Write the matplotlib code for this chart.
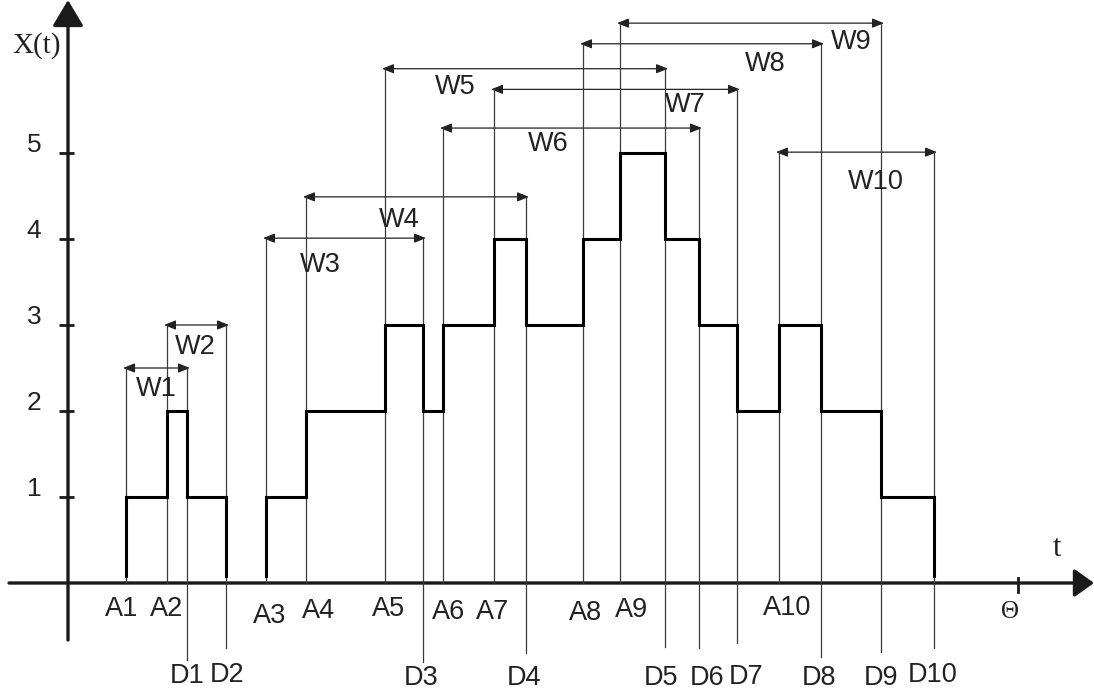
"""
Step diagram of X(t): arrivals A1..A10, departures D1..D10, windows W1..W10.
"""

import matplotlib
matplotlib.use("Agg")
import matplotlib.pyplot as plt
from matplotlib.patches import FancyArrowPatch

# ---- data (time in drawing units, level in X(t) units) ----
A_TIMES = [126, 167, 266, 306, 385, 443, 494, 583, 620, 779]
D_TIMES = [187, 226, 423, 526, 665, 699, 737, 821, 881, 934]
A_NAMES = ["A1", "A2", "A3", "A4", "A5", "A6", "A7", "A8", "A9", "A10"]
D_NAMES = ["D1", "D2", "D3", "D4", "D5", "D6", "D7", "D8", "D9", "D10"]
W_NAMES = ["W1", "W2", "W3", "W4", "W5", "W6", "W7", "W8", "W9", "W10"]
W_LEVELS = [2.50, 3.00, 4.01, 4.49, 5.98, 5.29, 5.74, 6.27, 6.51, 5.01]

# signal pieces: change times and the level held between them
SIG1_T = [126, 167, 187, 226]
SIG1_LVL = [1, 2, 1]
SIG2_T = [266, 306, 385, 423, 443, 494, 526, 583, 620, 665, 699, 737, 779, 821, 881, 934]
SIG2_LVL = [1, 2, 3, 2, 3, 4, 3, 4, 5, 4, 3, 2, 3, 2, 1]
SIG_BASE = 0.08

Y_TICKS = [1, 2, 3, 4, 5]
THETA = 1018

# ---- layout (pixel-ish coordinates of the drawing) ----
W_PX, H_PX = 1094, 696
ZERO_PX, UNIT_PX = 583, 86.0

# where the D marker lines end below the axis, and label anchors
D_TAIL = [-0.90, -0.76, -0.92, -0.81, -0.74, -0.76, -0.70, -0.86, -0.80, -0.76]
A_LABEL_POS = [(122, 609), (167, 609), (270, 616), (319, 611), (389, 609),
               (449, 612), (493, 612), (586, 613), (632, 610), (787, 608)]
D_LABEL_POS = [(187, 676), (227, 675), (421, 678), (524, 678), (661, 678),
               (707, 678), (746, 677), (819, 678), (881, 678), (933, 675)]
W_LABEL_POS = [(156, 389), (195, 347), (320, 265), (399, 220), (455, 87),
               (548, 144), (685, 105), (765, 64), (851, 42), (876, 182)]

SANS = ["Liberation Sans Narrow", "Liberation Sans", "DejaVu Sans"]
SERIF = ["Liberation Serif", "DejaVu Serif"]
TXT = "#222222"
THIN = "#3a3a3a"
LABEL_SIZE = 19.5


def lv(py):
    """pixel row -> level"""
    return (ZERO_PX - py) / UNIT_PX


def step_path(t, lvl, base):
    xs, ys = [t[0]], [base]
    for i in range(len(lvl)):
        xs += [t[i], t[i + 1]]
        ys += [lvl[i], lvl[i]]
    xs.append(t[-1])
    ys.append(base)
    return xs, ys


fig = plt.figure(figsize=(W_PX / 100, H_PX / 100), dpi=100)
ax = fig.add_axes([0, 0, 1, 1])
ax.set_xlim(0, W_PX)
ax.set_ylim(lv(H_PX), lv(0))
ax.axis("off")

# axes with arrowheads
ax.add_patch(FancyArrowPatch((68, lv(640)), (68, lv(0)), arrowstyle="-|>,head_length=1.6,head_width=0.95",
                             mutation_scale=10, lw=2.4, color="#1a1a1a", shrinkA=0, shrinkB=0))
ax.add_patch(FancyArrowPatch((9, 0), (W_PX, 0), arrowstyle="-|>,head_length=1.2,head_width=0.86",
                             mutation_scale=10, lw=2.4, color="#1a1a1a", shrinkA=0, shrinkB=0))
for y in Y_TICKS:
    ax.plot([59, 74], [y, y], color="#1a1a1a", lw=2.0, solid_capstyle="butt")
    ax.text(34, y + 0.09, str(y), fontsize=19, family=SANS, color=TXT, ha="center", va="center")
ax.plot([THETA, THETA], [lv(578), lv(592)], color="#1a1a1a", lw=2.0)

ax.text(37, lv(46), "X(t)", fontsize=21, family=SERIF, color=TXT, ha="center", va="center")
ax.text(1057, lv(549), "t", fontsize=22, family=SERIF, color=TXT, ha="center", va="center")
ax.text(1010, lv(612), "\u0398", fontsize=18, family=SERIF, color=TXT, ha="center", va="center")

# marker lines and window arrows
for i in range(len(W_NAMES)):
    a, d, w = A_TIMES[i], D_TIMES[i], W_LEVELS[i]
    ax.plot([a, a], [w, 0], color=THIN, lw=0.9)
    ax.plot([d, d], [w, D_TAIL[i]], color=THIN, lw=0.9)
    ax.add_patch(FancyArrowPatch((a - 3, w), (d + 3, w), arrowstyle="<|-|>,head_length=0.7,head_width=0.28",
                                 mutation_scale=10, lw=0.9, color="#222222", shrinkA=0, shrinkB=0))
    x, y = W_LABEL_POS[i]
    ax.text(x, lv(y), W_NAMES[i], fontsize=LABEL_SIZE, family=SANS, color=TXT, ha="center", va="center")
    x, y = A_LABEL_POS[i]
    ax.text(x, lv(y), A_NAMES[i], fontsize=LABEL_SIZE, family=SANS, color=TXT, ha="center", va="center")
    x, y = D_LABEL_POS[i]
    ax.text(x, lv(y), D_NAMES[i], fontsize=LABEL_SIZE, family=SANS, color=TXT, ha="center", va="center")

# the step signal
for t, lvl in [(SIG1_T, SIG1_LVL), (SIG2_T, SIG2_LVL)]:
    xs, ys = step_path(t, lvl, SIG_BASE)
    ax.plot(xs, ys, color="black", lw=2.2, solid_joinstyle="miter")

fig.savefig("out.png", dpi=100, facecolor="white")
plt.close(fig)
